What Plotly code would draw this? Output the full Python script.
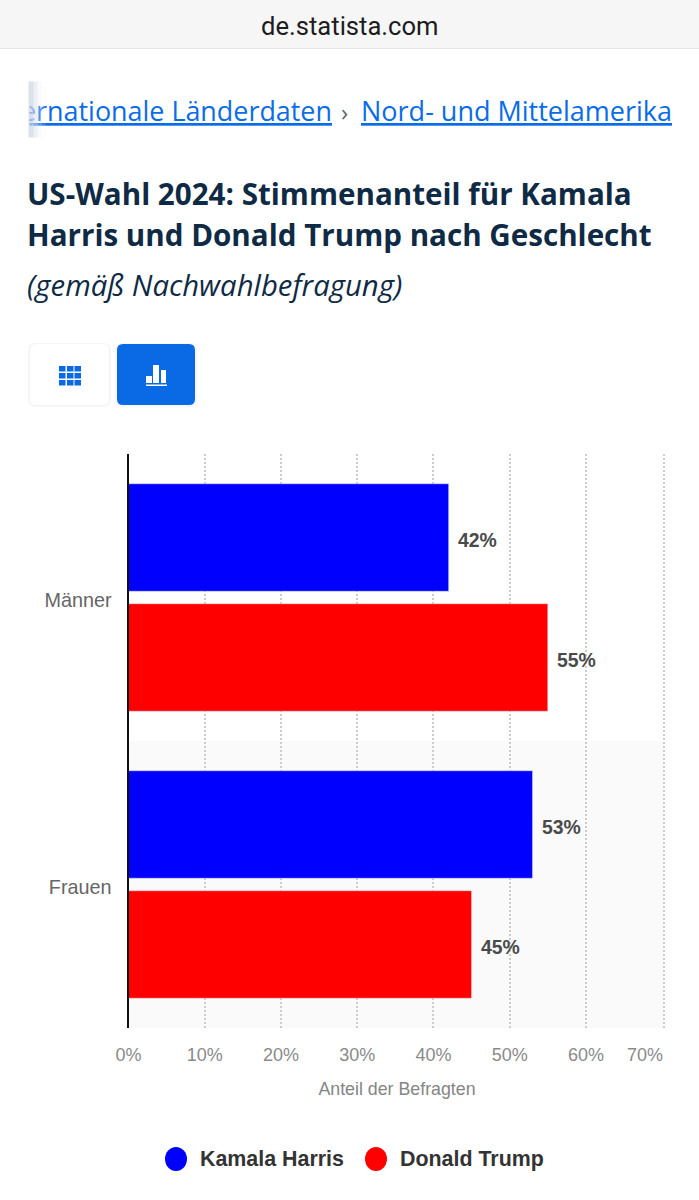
import plotly.graph_objects as go

W = 699
H = 1200

categories = ['Männer', 'Frauen']
harris = [42, 53]
trump = [55, 45]
series_names = ['Kamala Harris', 'Donald Trump']
# the last gridline sits right on the plot edge in the original
tick_vals = [0, 10, 20, 30, 40, 50, 60, 70.3]
tick_text = ['0%', '10%', '20%', '30%', '40%', '50%', '60%', '']
last_tick_text = '70%'

BLUE = '#0000ff'
RED = '#ff0000'
LINK = '#0a6ce8'
NAVY = '#0f2a45'


# everything around the chart is placed in page pixels
def px(x):
    return x / W


def py(y):
    return 1 - y / H


def box(x0, y0, x1, y1, color, line=None, kind='rect'):
    return dict(type=kind, xref='paper', yref='paper', x0=px(x0), x1=px(x1), y0=py(y0), y1=py(y1),
                fillcolor=color, line=dict(width=1 if line else 0, color=line or color), layer='above')


def rounded(x0, y0, x1, y1, r, color, line=None):
    a0, a1 = px(x0), px(x1)
    b0, b1 = py(y0), py(y1)
    rx, ry = px(r), r / H
    path = (f'M {a0 + rx} {b0} L {a1 - rx} {b0} Q {a1} {b0} {a1} {b0 - ry} L {a1} {b1 + ry} '
            f'Q {a1} {b1} {a1 - rx} {b1} L {a0 + rx} {b1} Q {a0} {b1} {a0} {b1 + ry} '
            f'L {a0} {b0 - ry} Q {a0} {b0} {a0 + rx} {b0} Z')
    return dict(type='path', xref='paper', yref='paper', path=path, fillcolor=color,
                line=dict(width=1 if line else 0, color=line or color), layer='above')


def label(x, y, text, size, color, family='Open Sans', anchor='left', **kw):
    return dict(xref='paper', yref='paper', x=px(x), y=py(y), text=text, showarrow=False,
                xanchor=anchor, yanchor='middle', align=anchor, borderpad=0,
                font=dict(size=size, color=color, family=family, **kw))


def strip(x0, x1, y0, y1, color):
    # annotations draw on top of each other, so this can cover the breadcrumb text
    return dict(xref='paper', yref='paper', x=px(x0), y=py(y0), text=' ', showarrow=False,
                xanchor='left', yanchor='top', width=x1 - x0, height=y1 - y0, borderpad=0,
                bgcolor=color, font=dict(size=1))


def value_label(cat, value, yshift):
    return dict(xref='x', yref='y', x=value, y=cat, text='<b>%d%%</b>' % value, showarrow=False,
                xanchor='left', yanchor='middle', xshift=8, yshift=yshift, borderpad=0,
                font=dict(size=19.4, color='#4a4a4a', family='Liberation Sans'))


fig = go.Figure()
fig.add_trace(go.Bar(y=categories, x=harris, name=series_names[0], orientation='h', marker_color=BLUE))
fig.add_trace(go.Bar(y=categories, x=trump, name=series_names[1], orientation='h', marker_color=RED))

shapes = [
    # browser bar
    box(0, 0, W, 48, '#f6f6f6'),
    box(0, 48, W, 49, '#e4e6ec'),
    # table / chart buttons
    rounded(28, 343, 111, 407, 7, '#f8f8f9'),
    rounded(29, 343.5, 110, 406, 7, '#f3f3f4'),
    rounded(30, 344, 109, 405, 6, '#ffffff'),
    rounded(115, 343, 197, 407, 7, '#f6f7f9'),
    rounded(117, 344, 195, 405, 6, '#0a6ae6'),
    # bar icon
    box(146, 376, 152, 383, '#ffffff'),
    box(153, 365, 159, 383, '#ffffff'),
    box(161, 370, 166, 383, '#ffffff'),
    box(146, 384.5, 167, 386, '#ffffff'),
    # legend dots
    box(165, 1147, 187, 1171, BLUE, kind='circle'),
    box(365, 1147, 387, 1171, RED, kind='circle'),
    # shaded band behind the second category
    dict(type='rect', xref='x', yref='y', x0=0, x1=tick_vals[-1], y0=0.5, y1=1.5,
         fillcolor='#fafafa', line_width=0, layer='below'),
]
# grid icon
for gx in [59, 67, 74.5]:
    for gy in [366, 373, 380]:
        shapes.append(box(gx, gy, gx + 6.5, gy + 5.5, '#0a6ae6'))

annotations = [
    label(350, 26, 'de.statista.com', 25.6, '#1c1c1e', family='Roboto', anchor='center'),
    label(20, 110, 'ernationale Länderdaten', 26.9, LINK, lineposition='under'),
    strip(0, 28, 81, 136, '#ffffff'),
    strip(28, 32, 81, 136, 'rgba(205,213,226,0.7)'),
    strip(32, 36, 81, 136, 'rgba(220,226,236,0.5)'),
    strip(36, 40, 81, 136, 'rgba(235,239,245,0.3)'),
    strip(40, 44, 81, 136, 'rgba(245,247,250,0.15)'),
    label(340, 111, '›', 24, '#5c6670'),
    label(360, 110, 'Nord- und Mittelamerika', 27, LINK, lineposition='under'),
    label(25.5, 193, '<b>US-Wahl 2024: Stimmenanteil für Kamala</b>', 29.6, NAVY),
    label(25.5, 235, '<b>Harris und Donald Trump nach Geschlecht</b>', 29.6, NAVY),
    label(26, 285, '<i>(gemäß Nachwahlbefragung)</i>', 29.3, NAVY),
    label(198.5, 1159, '<b>' + series_names[0] + '</b>', 21.4, '#333333', family='Liberation Sans'),
    label(398.5, 1159, '<b>' + series_names[1] + '</b>', 21.4, '#333333', family='Liberation Sans'),
    dict(xref='x', yref='paper', x=tick_vals[-1], y=py(1055), text=last_tick_text, showarrow=False,
         xanchor='right', yanchor='middle', borderpad=0,
         font=dict(size=18, color='#8a8a8a', family='Liberation Sans')),
]
for cat, h, t in zip(categories, harris, trump):
    annotations.append(value_label(cat, h, 57.5))
    annotations.append(value_label(cat, t, -62.5))

fig.update_layout(
    width=W, height=H, autosize=False,
    margin=dict(l=0, r=0, t=0, b=0, autoexpand=False),
    paper_bgcolor='#ffffff', plot_bgcolor='#ffffff',
    barmode='group', bargap=0.1638, bargroupgap=0.104,
    showlegend=False,
    font=dict(family='Liberation Sans'),
    shapes=shapes, annotations=annotations,
    xaxis=dict(
        domain=[px(128.5), px(665.5)], range=[0, 70.44],
        tickmode='array', tickvals=tick_vals, ticktext=tick_text,
        tickfont=dict(size=18, color='#8a8a8a'),
        ticks='', ticklabelstandoff=14,
        showgrid=True, gridcolor='#cccccc', griddash='2px,2px', gridwidth=1.5,
        zeroline=False, showline=False,
        title=dict(text='Anteil der Befragten', font=dict(size=17.8, color='#858585'), standoff=18),
    ),
    yaxis=dict(
        domain=[py(1028), py(454)], range=[1.5, -0.5],
        tickfont=dict(size=19.8, color='#666666'),
        ticks='', ticklabelstandoff=11, ticklabelshift=-3,
        showgrid=False, zeroline=False,
        showline=True, linecolor='#111111', linewidth=2,
    ),
)

fig.write_html('out.html', post_script="document.body.style.margin='0';", config=dict(displayModeBar=False))
